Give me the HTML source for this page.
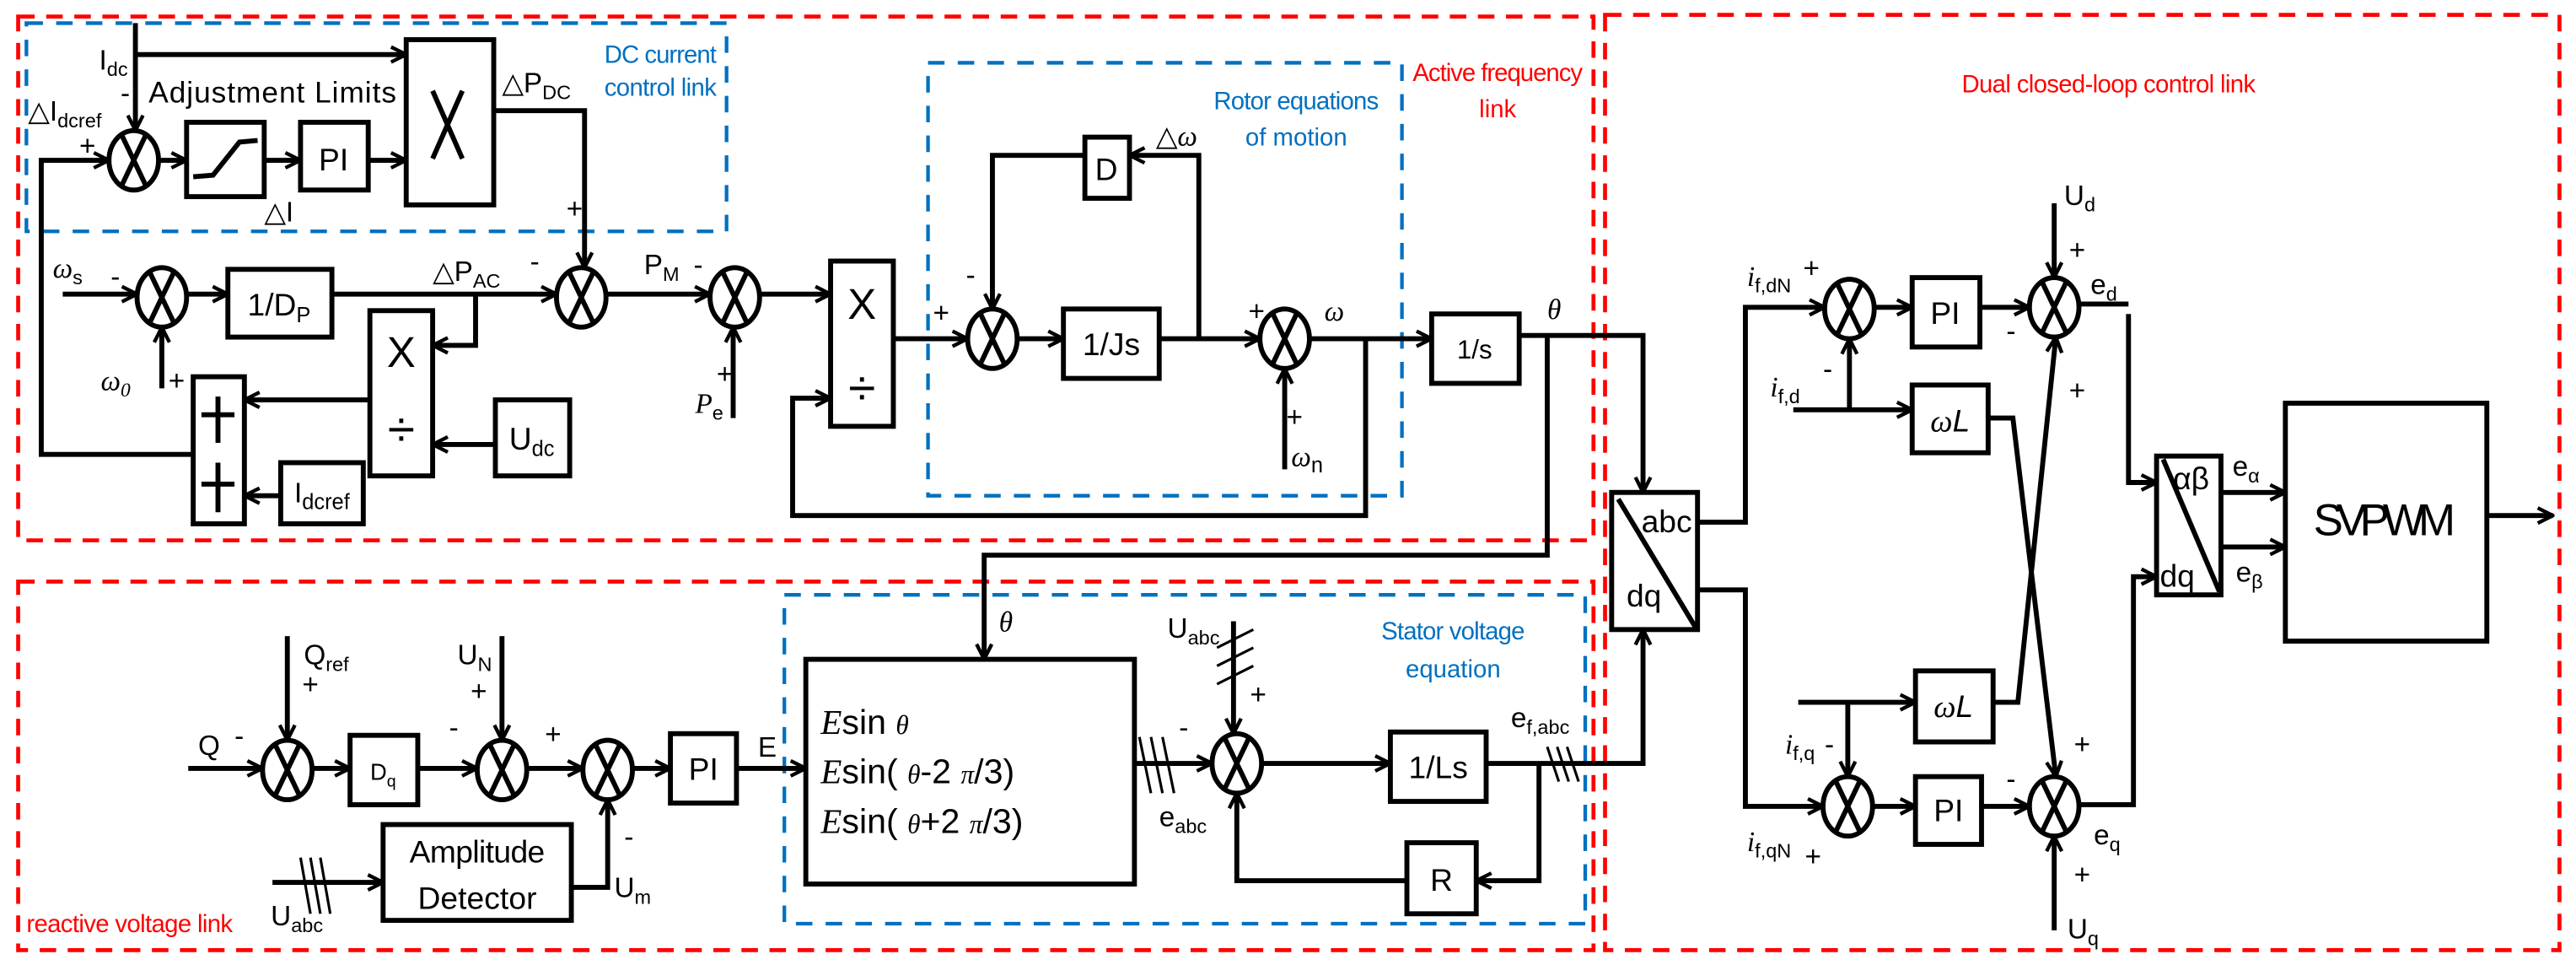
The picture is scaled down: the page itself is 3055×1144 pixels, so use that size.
<!DOCTYPE html>
<html><head><meta charset="utf-8"><style>
html,body{margin:0;padding:0;background:#fff}
svg{display:block}
text{font-family:"Liberation Sans",sans-serif;fill:#000}
.b{fill:none;stroke:#000;stroke-width:3}
.l{fill:none;stroke:#000;stroke-width:3;marker-end:url(#a)}
.n{fill:none;stroke:#000;stroke-width:3}
.rd{fill:none;stroke:#f00;stroke-width:2.4;stroke-dasharray:10 7}
.bd{fill:none;stroke:#0070c0;stroke-width:2.2;stroke-dasharray:10 8}
.it{font-family:"Liberation Serif",serif;font-style:italic}
</style></head><body>
<svg width="3055" height="1144" viewBox="0 0 1560 584" preserveAspectRatio="none" xmlns="http://www.w3.org/2000/svg">
<defs>
<marker id="a" viewBox="0 0 12 12" refX="11" refY="6" markerWidth="11" markerHeight="12" markerUnits="userSpaceOnUse" orient="auto">
<path d="M1,1 L11,6 L1,11" fill="none" stroke="#000" stroke-width="2.4"/></marker>
</defs>

<rect class="rd" x="11" y="10" width="954" height="317"/>
<rect class="rd" x="11" y="352" width="954" height="223"/>
<rect class="rd" x="972" y="9" width="578" height="566"/>
<rect class="bd" x="16" y="14" width="424" height="126"/>
<rect class="bd" x="562" y="38" width="287" height="262"/>
<rect class="bd" x="475" y="360" width="485" height="199"/>

<text x="366" y="38" font-size="15" style="fill:#0070c0" textLength="68">DC current</text>
<text x="366" y="58" font-size="15" style="fill:#0070c0" textLength="68">control link</text>
<text x="785" y="66" font-size="15" style="fill:#0070c0" text-anchor="middle" textLength="100">Rotor equations</text>
<text x="785" y="88" font-size="15" style="fill:#0070c0" text-anchor="middle">of motion</text>
<text x="907" y="49" font-size="15" style="fill:#f00" text-anchor="middle" textLength="103">Active frequency</text>
<text x="907" y="71" font-size="15" style="fill:#f00" text-anchor="middle">link</text>
<text x="1277" y="56" font-size="15" style="fill:#f00" text-anchor="middle" textLength="178">Dual closed-loop control link</text>
<text x="880" y="387" font-size="15" style="fill:#0070c0" text-anchor="middle" textLength="87">Stator voltage</text>
<text x="880" y="410" font-size="15" style="fill:#0070c0" text-anchor="middle">equation</text>
<text x="16" y="564" font-size="15" style="fill:#f00" textLength="125">reactive voltage link</text>

<rect class="b" x="113" y="74" width="47" height="45"/>
<polyline class="b" points="117,107 129,106 145,86 156,85"/>
<rect class="b" x="182" y="74" width="41" height="41"/>
<rect class="b" x="246" y="24" width="53" height="100"/>
<path class="b" d="M262,55 L280,96 M280,55 L262,96"/>
<rect class="b" x="138" y="163" width="63" height="41"/>
<rect class="b" x="224" y="188" width="38" height="100"/>
<rect class="b" x="300" y="242" width="45" height="46"/>
<rect class="b" x="117" y="228" width="31" height="89"/>
<path class="b" d="M132,240 V268 M122,251 H142 M132,280 V310 M122,293 H142" stroke-width="4"/>
<rect class="b" x="170" y="280" width="50" height="37"/>
<rect class="b" x="503" y="158" width="38" height="100"/>
<rect class="b" x="644" y="187" width="58" height="42"/>
<rect class="b" x="657" y="83" width="27" height="37"/>
<rect class="b" x="867" y="190" width="53" height="42"/>
<rect class="b" x="212" y="445" width="41" height="42"/>
<rect class="b" x="406" y="444" width="40" height="42"/>
<rect class="b" x="232" y="499" width="114" height="58"/>
<rect class="b" x="488" y="399" width="199" height="136"/>
<rect class="b" x="842" y="443" width="58" height="42"/>
<rect class="b" x="852" y="510" width="42" height="43"/>
<rect class="b" x="976" y="298" width="52" height="83"/>
<line class="b" x1="980" y1="302" x2="1027" y2="380"/>
<rect class="b" x="1158" y="168" width="41" height="42"/>
<rect class="b" x="1158" y="233" width="46" height="41"/>
<rect class="b" x="1160" y="406" width="47" height="43"/>
<rect class="b" x="1160" y="470" width="40" height="41"/>
<rect class="b" x="1306" y="276" width="39" height="84"/>
<line class="b" x1="1310" y1="278" x2="1344" y2="358"/>
<rect class="b" x="1384" y="244" width="122" height="144"/>

<g class="b">
<ellipse cx="81" cy="97" rx="15" ry="18"/><path d="M73.5,81.3 L88.5,112.7 M88.5,81.3 L73.5,112.7"/>
<ellipse cx="98" cy="180" rx="15" ry="18"/><path d="M90.5,164.3 L105.5,195.7 M105.5,164.3 L90.5,195.7"/>
<ellipse cx="352" cy="180" rx="15" ry="18"/><path d="M344.5,164.3 L359.5,195.7 M359.5,164.3 L344.5,195.7"/>
<ellipse cx="445" cy="180" rx="15" ry="18"/><path d="M437.5,164.3 L452.5,195.7 M452.5,164.3 L437.5,195.7"/>
<ellipse cx="601" cy="205" rx="15" ry="18"/><path d="M593.5,189.3 L608.5,220.7 M608.5,189.3 L593.5,220.7"/>
<ellipse cx="778" cy="205" rx="15" ry="18"/><path d="M770.5,189.3 L785.5,220.7 M785.5,189.3 L770.5,220.7"/>
<ellipse cx="1120" cy="187" rx="15" ry="18"/><path d="M1112.5,171.3 L1127.5,202.7 M1127.5,171.3 L1112.5,202.7"/>
<ellipse cx="1244" cy="186" rx="15" ry="18"/><path d="M1236.5,170.3 L1251.5,201.7 M1251.5,170.3 L1236.5,201.7"/>
<ellipse cx="1119" cy="488" rx="15" ry="18"/><path d="M1111.5,472.3 L1126.5,503.7 M1126.5,472.3 L1111.5,503.7"/>
<ellipse cx="1244" cy="488" rx="15" ry="18"/><path d="M1236.5,472.3 L1251.5,503.7 M1251.5,472.3 L1236.5,503.7"/>
<ellipse cx="174" cy="466" rx="15" ry="18"/><path d="M166.5,450.3 L181.5,481.7 M181.5,450.3 L166.5,481.7"/>
<ellipse cx="304" cy="466" rx="15" ry="18"/><path d="M296.5,450.3 L311.5,481.7 M311.5,450.3 L296.5,481.7"/>
<ellipse cx="368" cy="466" rx="15" ry="18"/><path d="M360.5,450.3 L375.5,481.7 M375.5,450.3 L360.5,481.7"/>
<ellipse cx="749" cy="462" rx="15" ry="18"/><path d="M741.5,446.3 L756.5,477.7 M756.5,446.3 L741.5,477.7"/>
</g>

<path class="l" d="M82,14 V79"/>
<path class="l" d="M82,33 H246"/>
<path class="l" d="M117,275 H25 V97 H66"/>
<path class="l" d="M96,97 H113"/>
<path class="l" d="M160,97 H182"/>
<path class="l" d="M223,97 H246"/>
<path class="l" d="M299,67 H354 V162"/>
<path class="l" d="M38,178 H83"/>
<path class="l" d="M113,178 H138"/>
<path class="l" d="M201,178 H337"/>
<path class="l" d="M288,178 V209 H262"/>
<path class="l" d="M98,235 V198"/>
<path class="l" d="M224,242 H148"/>
<path class="l" d="M300,269 H262"/>
<path class="l" d="M170,300 H148"/>
<path class="l" d="M367,178 H430"/>
<path class="l" d="M444,253 V198"/>
<path class="l" d="M460,178 H503"/>
<path class="l" d="M827,205 V312 H480 V241 H503"/>
<path class="l" d="M541,205 H586"/>
<path class="l" d="M616,205 H644"/>
<path class="l" d="M702,205 H763"/>
<path class="l" d="M726,205 V94 H684"/>
<path class="l" d="M657,94 H601 V187"/>
<path class="l" d="M778,284 V223"/>
<path class="l" d="M793,205 H867"/>
<path class="l" d="M920,203 H995 V298"/>
<path class="l" d="M937,203 V336 H596 V399"/>

<path class="l" d="M114,465 H159"/>
<path class="l" d="M174,385 V448"/>
<path class="l" d="M189,465 H212"/>
<path class="l" d="M253,465 H289"/>
<path class="l" d="M304,385 V448"/>
<path class="l" d="M319,465 H353"/>
<path class="l" d="M383,465 H406"/>
<path class="l" d="M446,465 H488"/>
<path class="l" d="M165,534 H232"/>
<path class="l" d="M346,537 H368 V484"/>
<path class="l" d="M687,462 H734"/>
<path class="l" d="M747,376 V444"/>
<path class="l" d="M764,462 H842"/>
<path class="l" d="M900,462 H995 V381"/>
<path class="l" d="M932,462 V533 H894"/>
<path class="l" d="M852,533 H749 V480"/>

<path class="l" d="M1028,316 H1057 V186 H1105"/>
<path class="l" d="M1028,357 H1057 V488 H1104"/>
<path class="l" d="M1135,186 H1158"/>
<path class="l" d="M1199,186 H1229"/>
<path class="l" d="M1244,123 V168"/>
<path class="n" d="M1259,184 H1289"/>
<path class="l" d="M1289,190 V292 H1306"/>
<path class="l" d="M1086,248 H1158"/>
<path class="l" d="M1120,248 V205"/>
<path class="l" d="M1204,253 H1219 L1245,470"/>
<path class="l" d="M1089,425 H1160"/>
<path class="l" d="M1119,425 V470"/>
<path class="l" d="M1207,425 H1222 L1245,204"/>
<path class="l" d="M1134,488 H1160"/>
<path class="l" d="M1200,488 H1229"/>
<path class="l" d="M1244,563 V506"/>
<path class="l" d="M1259,487 H1292 V349 H1306"/>
<path class="l" d="M1345,298 H1384"/>
<path class="l" d="M1345,331 H1384"/>
<path class="l" d="M1506,312 H1546"/>

<g stroke="#000" stroke-width="1.6">
<line x1="182" y1="519" x2="188" y2="553"/><line x1="188" y1="519" x2="194" y2="553"/><line x1="194" y1="519" x2="200" y2="553"/>
<line x1="690" y1="446" x2="697" y2="480"/><line x1="697" y1="446" x2="704" y2="480"/><line x1="704" y1="446" x2="711" y2="480"/>
<line x1="937" y1="452" x2="944" y2="473"/><line x1="943" y1="452" x2="950" y2="473"/><line x1="949" y1="452" x2="956" y2="473"/>
<line x1="737" y1="392" x2="759" y2="381"/><line x1="737" y1="403" x2="759" y2="392"/><line x1="737" y1="414" x2="759" y2="403"/>
</g>

<g font-size="19" text-anchor="middle">
<text x="202" y="103">PI</text>
<text x="169" y="191">1/D<tspan font-size="13" dy="4">P</tspan></text>
<text x="243" y="222" font-size="26">X</text>
<text x="243" y="270" font-size="30">÷</text>
<text x="322" y="272">U<tspan font-size="13" dy="4">dc</tspan></text>
<text x="195" y="304" font-size="17">I<tspan font-size="13" dy="4">dcref</tspan></text>
<text x="522" y="193" font-size="26">X</text>
<text x="522" y="245" font-size="30">÷</text>
<text x="673" y="215">1/Js</text>
<text x="670" y="109">D</text>
<text x="893" y="217" font-size="16">1/s</text>
<text x="232" y="472" font-size="14">D<tspan font-size="10" dy="4">q</tspan></text>
<text x="426" y="472">PI</text>
<text x="289" y="522" textLength="82">Amplitude</text>
<text x="289" y="550" textLength="72">Detector</text>
<text x="871" y="471">1/Ls</text>
<text x="873" y="539">R</text>
<text x="1178" y="196">PI</text>
<text x="1180" y="497">PI</text>
<text x="1181" y="261" class="it">ω<tspan font-family="Liberation Sans">L</tspan></text>
<text x="1183" y="434" class="it">ω<tspan font-family="Liberation Sans">L</tspan></text>
<text x="1444" y="324" font-size="27" textLength="86">SVPWM</text>
</g>
<g font-size="19">
<text x="994" y="322">abc</text>
<text x="985" y="367">dq</text>
<text x="1316" y="296">αβ</text>
<text x="1308" y="355">dq</text>
<text x="90" y="62" textLength="150" font-size="18">Adjustment Limits</text>
<text x="497" y="444" font-size="21"><tspan class="it">E</tspan>sin <tspan class="it" font-size="16">θ</tspan></text>
<text x="497" y="474" font-size="21"><tspan class="it">E</tspan>sin( <tspan class="it" font-size="16">θ</tspan>-2 <tspan class="it" font-size="16">π</tspan>/3)</text>
<text x="497" y="504" font-size="21"><tspan class="it">E</tspan>sin( <tspan class="it" font-size="16">θ</tspan>+2 <tspan class="it" font-size="16">π</tspan>/3)</text>
</g>

<g font-size="17">
<text x="60" y="42">I<tspan font-size="12" dy="4">dc</tspan></text>
<text x="73" y="62">-</text>
<text x="17" y="73">△I<tspan font-size="12" dy="4">dcref</tspan></text>
<text x="48" y="94">+</text>
<text x="160" y="134">△I</text>
<text x="304" y="56">△P<tspan font-size="12" dy="4">DC</tspan></text>
<text x="343" y="132">+</text>
<text x="32" y="168" class="it">ω<tspan font-family="Liberation Sans" font-size="12" font-style="normal" dy="4">s</tspan></text>
<text x="67" y="173">-</text>
<text x="262" y="170">△P<tspan font-size="12" dy="4">AC</tspan></text>
<text x="321" y="164">-</text>
<text x="390" y="166">P<tspan font-size="12" dy="4">M</tspan></text>
<text x="420" y="166">-</text>
<text x="61" y="236" class="it">ω<tspan font-size="12" dy="4">0</tspan></text>
<text x="102" y="236">+</text>
<text x="434" y="232">+</text>
<text x="421" y="250" class="it">P<tspan font-family="Liberation Sans" font-style="normal" font-size="12" dy="4">e</tspan></text>
<text x="565" y="195">+</text>
<text x="585" y="172">-</text>
<text x="700" y="88">△<tspan class="it">ω</tspan></text>
<text x="756" y="194">+</text>
<text x="802" y="194" class="it">ω</text>
<text x="779" y="258">+</text>
<text x="782" y="282" class="it">ω<tspan font-family="Liberation Sans" font-style="normal" font-size="13" dy="4">n</tspan></text>
<text x="937" y="193" class="it">θ</text>
<text x="120" y="457">Q</text>
<text x="142" y="451">-</text>
<text x="184" y="402">Q<tspan font-size="12" dy="4">ref</tspan></text>
<text x="183" y="420">+</text>
<text x="277" y="402">U<tspan font-size="12" dy="4">N</tspan></text>
<text x="285" y="424">+</text>
<text x="272" y="446">-</text>
<text x="330" y="450">+</text>
<text x="459" y="458">E</text>
<text x="378" y="512">-</text>
<text x="372" y="543">U<tspan font-size="12" dy="4">m</tspan></text>
<text x="164" y="560">U<tspan font-size="12" dy="4">abc</tspan></text>
<text x="605" y="382" class="it">θ</text>
<text x="707" y="386">U<tspan font-size="12" dy="4">abc</tspan></text>
<text x="757" y="426">+</text>
<text x="714" y="446">-</text>
<text x="702" y="500">e<tspan font-size="12" dy="4">abc</tspan></text>
<text x="915" y="440">e<tspan font-size="12" dy="4">f,abc</tspan></text>
<text x="1058" y="173"><tspan class="it">i</tspan><tspan font-size="12" dy="4">f,dN</tspan></text>
<text x="1092" y="168">+</text>
<text x="1104" y="229">-</text>
<text x="1072" y="240"><tspan class="it">i</tspan><tspan font-size="12" dy="4">f,d</tspan></text>
<text x="1215" y="206">-</text>
<text x="1253" y="157">+</text>
<text x="1253" y="242">+</text>
<text x="1250" y="124">U<tspan font-size="12" dy="4">d</tspan></text>
<text x="1266" y="178">e<tspan font-size="12" dy="4">d</tspan></text>
<text x="1081" y="456"><tspan class="it">i</tspan><tspan font-size="12" dy="4">f,q</tspan></text>
<text x="1105" y="456">-</text>
<text x="1058" y="515"><tspan class="it">i</tspan><tspan font-size="12" dy="4">f,qN</tspan></text>
<text x="1093" y="524">+</text>
<text x="1215" y="477">-</text>
<text x="1256" y="456">+</text>
<text x="1256" y="535">+</text>
<text x="1268" y="511">e<tspan font-size="12" dy="4">q</tspan></text>
<text x="1252" y="568">U<tspan font-size="12" dy="4">q</tspan></text>
<text x="1352" y="288">e<tspan font-size="12" dy="4">α</tspan></text>
<text x="1354" y="352">e<tspan font-size="12" dy="4">β</tspan></text>
</g>
</svg>
</body></html>
